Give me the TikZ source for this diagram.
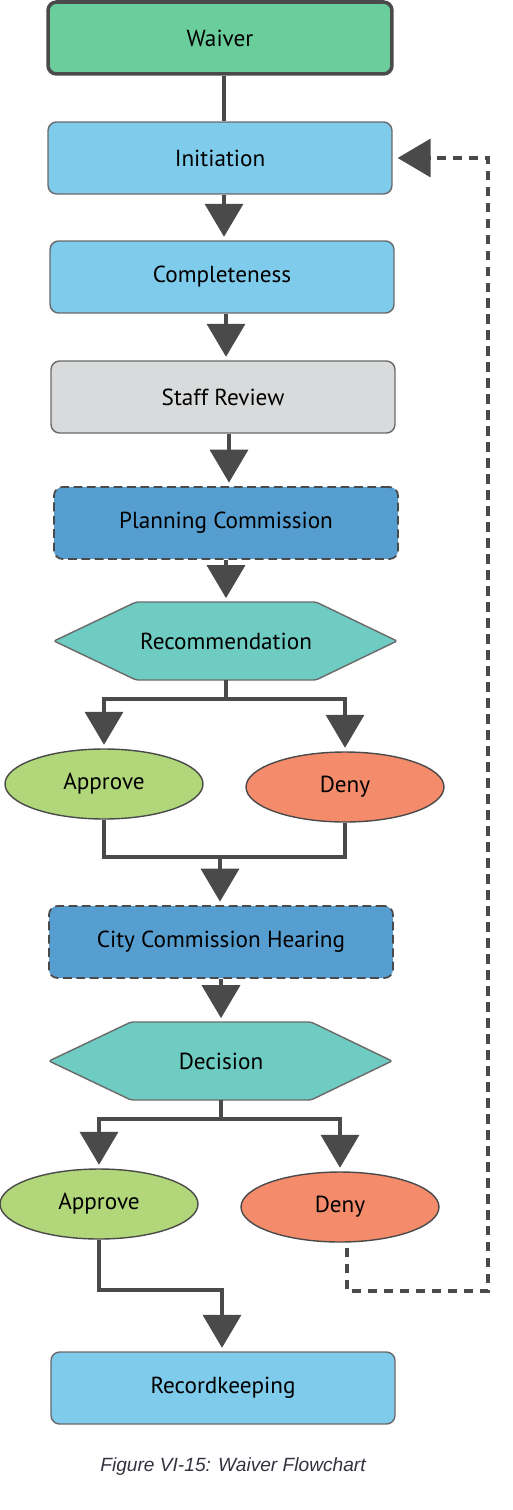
\documentclass[tikz,border=0pt]{standalone}
\usepackage{fontspec}
\setmainfont{PT Sans}
\newfontfamily\capfont{Liberation Sans}
\usetikzlibrary{arrows.meta,shapes.geometric,calc}
\definecolor{linec}{HTML}{4A4A4A}
\definecolor{bordc}{HTML}{6A6A6A}
\definecolor{waivc}{HTML}{6ACD9C}
\definecolor{ltblue}{HTML}{7ECBEC}
\definecolor{greyc}{HTML}{D9DADB}
\definecolor{midblue}{HTML}{579ED0}
\definecolor{tealc}{HTML}{6FCCC3}
\definecolor{apprc}{HTML}{B2D77A}
\definecolor{denyc}{HTML}{F48C6C}
\definecolor{capc}{HTML}{333340}
\begin{document}
\begin{tikzpicture}[x=0.02cm,y=-0.02cm,
  every node/.style={font=\fontsize{13.2}{15}\selectfont, text=black},
  boxs/.style={rectangle, rounded corners=0.17cm, minimum width=6.88cm, minimum height=1.44cm, draw=bordc, line width=0.8pt, inner sep=0pt},
  startbox/.style={boxs, draw=linec, line width=2pt, fill=waivc},
  stagebox/.style={boxs, fill=ltblue},
  reviewbox/.style={boxs, fill=greyc},
  bodybox/.style={boxs, fill=midblue, draw=linec, line width=1pt, dash pattern=on 5pt off 2.6pt},
  hexa/.style={fill=tealc, draw=bordc, line width=0.8pt, rounded corners=0.04cm},
  hexnode/.style={rectangle, minimum width=6.86cm, minimum height=1.56cm, inner sep=0pt},
  ovals/.style={ellipse, minimum width=3.96cm, minimum height=1.4cm, draw=linec, line width=0.8pt, inner sep=0pt},
  appr/.style={ovals, fill=apprc},
  deny/.style={ovals, fill=denyc},
  conn/.style={draw=linec, line width=2.1pt},
  arr/.style={conn, -{Triangle[width=0.76cm,length=0.66cm]}, shorten >=0.07cm},
  fb/.style={draw=linec, line width=2.1pt, dash pattern=on 5.5pt off 3.6pt, -{Triangle[width=0.76cm,length=0.66cm]}, shorten >=0.1cm}
]
\useasboundingbox (0,0) rectangle (512,1510);

% nodes
\node[startbox] (waiver) at (220,38) {Waiver};
\node[stagebox] (ini) at (220,158) {Initiation};
\node[stagebox] (comp) at (222,277) {Completeness};
\node[reviewbox] (staff) at (223,397) {Staff Review};
\node[bodybox] (pc) at (226,523) {Planning Commission};

\path[hexa] (54,641) -- (136,602) -- (316,602) -- (397,641) -- (316,680) -- (136,680) -- cycle;
\node[hexnode] (rec) at (226,641) {Recommendation};

\node[appr] (app1) at (104,784) {Approve};
\node[deny] (deny1) at (345,787) {Deny};

\node[bodybox] (cch) at (221,942) {City Commission Hearing};

\path[hexa] (49,1061) -- (131,1022) -- (311,1022) -- (392,1061) -- (311,1100) -- (131,1100) -- cycle;
\node[hexnode] (dec) at (221,1061) {Decision};

\node[appr] (app2) at (99,1204) {Approve};
\node[deny] (deny2) at (340,1207) {Deny};

\node[stagebox] (rk) at (223,1388) {Recordkeeping};

\node[font=\capfont\itshape\fontsize{10.9}{12}\selectfont, text=capc] (cap) at (233,1467) {Figure VI-15: Waiver Flowchart};

% connectors
\draw[conn] (waiver.south -| 224,0) -- (ini.north -| 224,0);
\draw[arr] (ini.south -| 224,0) -- (comp.north -| 224,0);
\draw[arr] (comp.south -| 226,0) -- (staff.north -| 226,0);
\draw[arr] (staff.south -| 229,0) -- (pc.north -| 229,0);
\draw[arr] (pc.south) -- (rec.north);

\coordinate (b1) at (226,699);
\draw[conn] (rec.south) -- (b1);
\draw[arr] (b1) -| (app1.north);
\draw[arr] (b1) -| (deny1.north);

\coordinate (m1) at (220,857);
\draw[conn] (app1.south) |- (m1) -| (deny1.south);
\draw[arr] (m1) -- (cch.north -| m1);

\draw[arr] (cch.south) -- (dec.north);

\coordinate (b2) at (221,1119);
\draw[conn] (dec.south) -- (b2);
\draw[arr] (b2) -| (app2.north);
\draw[arr] (b2) -| (deny2.north);

\coordinate (m2) at (222,1290);
\draw[arr] (app2.south) |- (m2) -- (rk.north -| m2);

\coordinate (c1) at (488,1291);
\draw[fb] ($(deny2.south)+(7,5)$) |- (c1) |- (ini.east);
\end{tikzpicture}
\end{document}
